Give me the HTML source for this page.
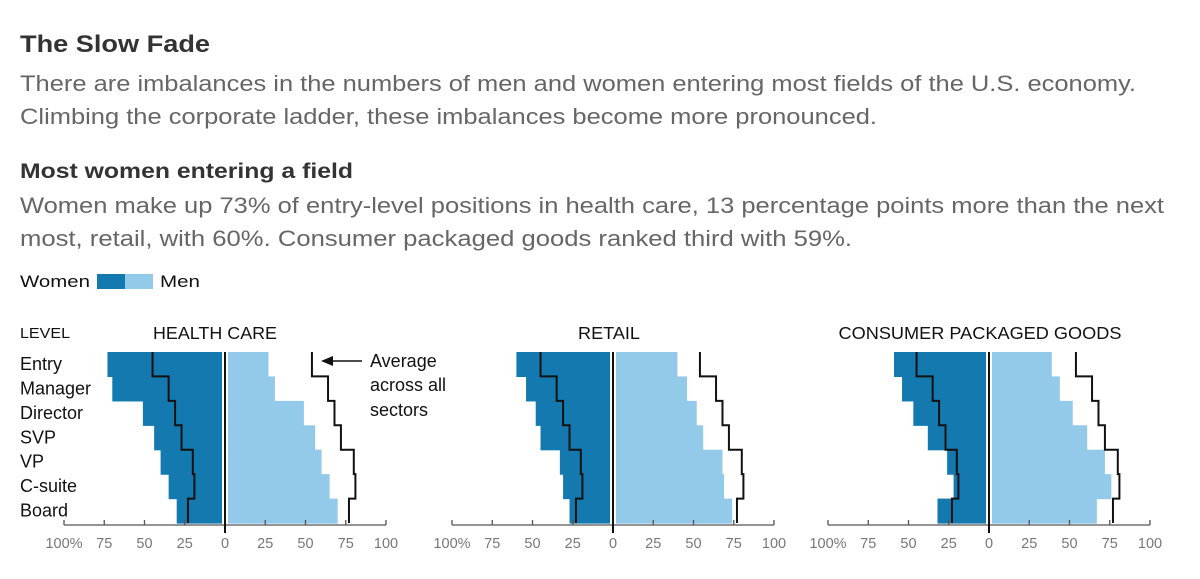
<!DOCTYPE html>
<html><head><meta charset="utf-8"><style>
body{margin:0;background:#fff}
svg{display:block;font-family:"Liberation Sans",sans-serif}
</style></head><body>
<svg id="chart" width="1200" height="579" viewBox="0 0 1200 579">
<text x="20" y="52" font-size="24" font-weight="bold" fill="#333" textLength="190" lengthAdjust="spacingAndGlyphs">The Slow Fade</text>
<text x="20" y="91" font-size="22" fill="#666" textLength="1116" lengthAdjust="spacingAndGlyphs">There are imbalances in the numbers of men and women entering most fields of the U.S. economy.</text>
<text x="20" y="124" font-size="22" fill="#666" textLength="857" lengthAdjust="spacingAndGlyphs">Climbing the corporate ladder, these imbalances become more pronounced.</text>
<text x="20" y="178" font-size="21" font-weight="bold" fill="#333" textLength="333" lengthAdjust="spacingAndGlyphs">Most women entering a field</text>
<text x="20" y="213" font-size="22" fill="#666" textLength="1144" lengthAdjust="spacingAndGlyphs">Women make up 73% of entry-level positions in health care, 13 percentage points more than the next</text>
<text x="20" y="246" font-size="22" fill="#666" textLength="832" lengthAdjust="spacingAndGlyphs">most, retail, with 60%. Consumer packaged goods ranked third with 59%.</text>
<g>
<text x="20" y="287" font-size="17" fill="#111" textLength="70" lengthAdjust="spacingAndGlyphs">Women</text>
<rect x="97" y="274" width="28" height="15" fill="#1479ae"/>
<rect x="125" y="274" width="28" height="15" fill="#93c9e9"/>
<text x="160" y="287" font-size="17" fill="#111" textLength="40" lengthAdjust="spacingAndGlyphs">Men</text>
</g>
<text x="20" y="338" font-size="15" fill="#111" textLength="50" lengthAdjust="spacingAndGlyphs">LEVEL</text>
<g id="levels"></g>
<g id="panels"></g>
<g>
<line x1="362" y1="361" x2="330" y2="361" stroke="#111" stroke-width="1.5"/>
<polygon points="321,361 333,356 333,366" fill="#111"/>
<text x="370" y="367" font-size="18" fill="#111">Average</text>
<text x="370" y="391" font-size="18" fill="#111">across all</text>
<text x="370" y="416" font-size="18" fill="#111">sectors</text>
</g>
</svg>
<script>
const levels = ["Entry","Manager","Director","SVP","VP","C-suite","Board"];
const sectors = ["HEALTH CARE","RETAIL","CONSUMER PACKAGED GOODS"];
const womenHealth = [73,70,51,44,40,35,30];
const menHealth = [27,31,49,56,60,65,70];
const womenRetail = [60,54,48,45,33,31,27];
const menRetail = [40,46,52,56,68,69,74];
const womenCPG = [59,54,47,38,26,22,32];
const menCPG = [39,44,52,61,72,76,67];
const avgWomen = [45,35,31,27,20,19,23];
const avgMen = [54,64,68,72,80,81,77];
const tickValues = [100,75,50,25,0,25,50,75,100];
const tickLabels = ["100%","75","50","25","0","25","50","75","100"];

const NS = "http://www.w3.org/2000/svg";
function mk(tag, attrs, parent){const e=document.createElementNS(NS,tag);for(const k in attrs)e.setAttribute(k,attrs[k]);parent.appendChild(e);return e;}
const top0 = 352, rowH = 24.43, axisY = 525;
const yRow = i => top0 + i*rowH;
const lg = document.getElementById('levels');
levels.forEach((l,i)=>{
  const t = mk('text',{x:20,y:yRow(i)+18,'font-size':18,fill:'#111'},lg);
  
  
  t.textContent=l;
});
const centers = [225,613,989];
const titleX = [215,609,980];
const titleW = [124,62,283];
const scale = 1.61;
const women = [womenHealth,womenRetail,womenCPG];
const men = [menHealth,menRetail,menCPG];
const pg = document.getElementById('panels');
function stepPath(vals, xf){
  let d='';
  vals.forEach((v,i)=>{const x=xf(v);d+=(i===0?'M':'L')+x+','+yRow(i)+' L'+x+','+yRow(i+1)+' ';});
  return d;
}
sectors.forEach((s,p)=>{
  const c = centers[p];
  const xW = v => c - v*scale;
  const xM = v => c + v*scale;
  const g = mk('g',{},pg);
  
  
  const title = mk('text',{x:titleX[p]-titleW[p]/2,y:339,'font-size':17.5,fill:'#111',textLength:titleW[p],lengthAdjust:'spacingAndGlyphs'},g);
  
  
  title.textContent=s;
  women[p].forEach((v,i)=>{
    const r = mk('rect',{x:xW(v),y:yRow(i),width:v*scale-3,height:rowH+0.6,fill:'#1479ae'},g);
    
    
  });
  men[p].forEach((v,i)=>{
    const r = mk('rect',{x:c+3,y:yRow(i),width:v*scale-3,height:rowH+0.6,fill:'#93c9e9'},g);
    
    
  });
  const aw = mk('path',{d:stepPath(avgWomen,xW),fill:'none',stroke:'#111','stroke-width':2},g);
  
  
  const am = mk('path',{d:stepPath(avgMen,xM),fill:'none',stroke:'#111','stroke-width':2},g);
  
  
  const ax = mk('line',{x1:c-100*scale,x2:c+100*scale,y1:axisY,y2:axisY,stroke:'#555','stroke-width':1.3},g);
  
  
  tickValues.forEach((v,k)=>{
    const x = k<4 ? xW(v) : xM(v);
    const tk = mk('line',{x1:x,x2:x,y1:axisY-5,y2:axisY,stroke:'#555','stroke-width':1.3},g);
    
    
    const tl = mk('text',{x:x,y:548,'font-size':14.5,fill:'#777','text-anchor':'middle'},g);
    
    
    tl.textContent=tickLabels[k];
  });
  const cl = mk('line',{x1:c,x2:c,y1:top0,y2:533,stroke:'#111','stroke-width':2},g);
  
  
});
</script>
</body></html>
